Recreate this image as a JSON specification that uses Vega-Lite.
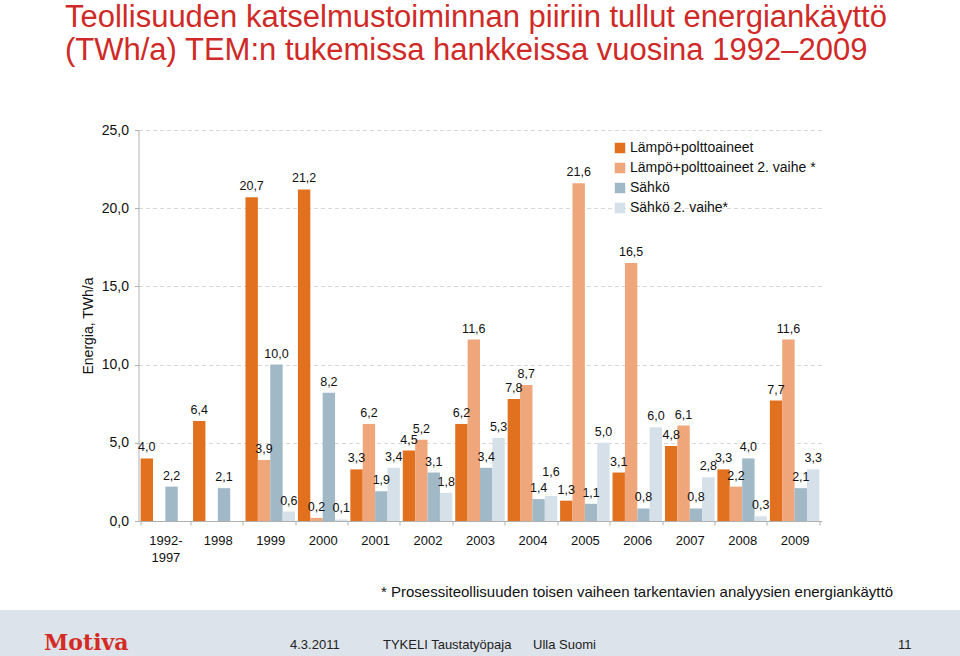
{
  "$schema": "https://vega.github.io/schema/vega-lite/v6.json",
  "padding": {"top": 2, "left": 0, "right": 0, "bottom": 0},
  "background": "white",
  "bounds": "flush",
  "center": true,
  "spacing": 89,
  "title": {
    "text": ["Teollisuuden katselmustoiminnan piiriin tullut energiankäyttö", "(TWh/a) TEM:n tukemissa hankkeissa vuosina 1992–2009"],
    "anchor": "start",
    "dx": 65,
    "fontSize": 31,
    "font": "Liberation Sans",
    "fontWeight": "normal",
    "color": "#cf2a27",
    "lineHeight": 33,
    "offset": 56
  },
  "config": {
    "locale": {"number": {"decimal": ",", "thousands": " ", "grouping": [3], "currency": ["", " €"]}},
    "view": {"stroke": null},
    "font": "Liberation Sans"
  },
  "vconcat": [
    {
      "width": 683,
      "height": 391,
      "data": {
        "values": [
          {"year": "1992-1997", "series": "Lämpö+polttoaineet", "value": 4.0},
          {"year": "1992-1997", "series": "Sähkö", "value": 2.2},
          {"year": "1998", "series": "Lämpö+polttoaineet", "value": 6.4},
          {"year": "1998", "series": "Sähkö", "value": 2.1},
          {"year": "1999", "series": "Lämpö+polttoaineet", "value": 20.7},
          {"year": "1999", "series": "Lämpö+polttoaineet 2. vaihe *", "value": 3.9},
          {"year": "1999", "series": "Sähkö", "value": 10.0},
          {"year": "1999", "series": "Sähkö 2. vaihe*", "value": 0.6},
          {"year": "2000", "series": "Lämpö+polttoaineet", "value": 21.2},
          {"year": "2000", "series": "Lämpö+polttoaineet 2. vaihe *", "value": 0.2},
          {"year": "2000", "series": "Sähkö", "value": 8.2},
          {"year": "2000", "series": "Sähkö 2. vaihe*", "value": 0.1},
          {"year": "2001", "series": "Lämpö+polttoaineet", "value": 3.3},
          {"year": "2001", "series": "Lämpö+polttoaineet 2. vaihe *", "value": 6.2},
          {"year": "2001", "series": "Sähkö", "value": 1.9},
          {"year": "2001", "series": "Sähkö 2. vaihe*", "value": 3.4},
          {"year": "2002", "series": "Lämpö+polttoaineet", "value": 4.5},
          {"year": "2002", "series": "Lämpö+polttoaineet 2. vaihe *", "value": 5.2},
          {"year": "2002", "series": "Sähkö", "value": 3.1},
          {"year": "2002", "series": "Sähkö 2. vaihe*", "value": 1.8},
          {"year": "2003", "series": "Lämpö+polttoaineet", "value": 6.2},
          {"year": "2003", "series": "Lämpö+polttoaineet 2. vaihe *", "value": 11.6},
          {"year": "2003", "series": "Sähkö", "value": 3.4},
          {"year": "2003", "series": "Sähkö 2. vaihe*", "value": 5.3},
          {"year": "2004", "series": "Lämpö+polttoaineet", "value": 7.8},
          {"year": "2004", "series": "Lämpö+polttoaineet 2. vaihe *", "value": 8.7},
          {"year": "2004", "series": "Sähkö", "value": 1.4},
          {"year": "2004", "series": "Sähkö 2. vaihe*", "value": 1.6},
          {"year": "2005", "series": "Lämpö+polttoaineet", "value": 1.3},
          {"year": "2005", "series": "Lämpö+polttoaineet 2. vaihe *", "value": 21.6},
          {"year": "2005", "series": "Sähkö", "value": 1.1},
          {"year": "2005", "series": "Sähkö 2. vaihe*", "value": 5.0},
          {"year": "2006", "series": "Lämpö+polttoaineet", "value": 3.1},
          {"year": "2006", "series": "Lämpö+polttoaineet 2. vaihe *", "value": 16.5},
          {"year": "2006", "series": "Sähkö", "value": 0.8},
          {"year": "2006", "series": "Sähkö 2. vaihe*", "value": 6.0},
          {"year": "2007", "series": "Lämpö+polttoaineet", "value": 4.8},
          {"year": "2007", "series": "Lämpö+polttoaineet 2. vaihe *", "value": 6.1},
          {"year": "2007", "series": "Sähkö", "value": 0.8},
          {"year": "2007", "series": "Sähkö 2. vaihe*", "value": 2.8},
          {"year": "2008", "series": "Lämpö+polttoaineet", "value": 3.3},
          {"year": "2008", "series": "Lämpö+polttoaineet 2. vaihe *", "value": 2.2},
          {"year": "2008", "series": "Sähkö", "value": 4.0},
          {"year": "2008", "series": "Sähkö 2. vaihe*", "value": 0.3},
          {"year": "2009", "series": "Lämpö+polttoaineet", "value": 7.7},
          {"year": "2009", "series": "Lämpö+polttoaineet 2. vaihe *", "value": 11.6},
          {"year": "2009", "series": "Sähkö", "value": 2.1},
          {"year": "2009", "series": "Sähkö 2. vaihe*", "value": 3.3}
        ]
      },
      "encoding": {
        "x": {
          "field": "year",
          "type": "nominal",
          "sort": ["1992-1997", "1998", "1999", "2000", "2001", "2002", "2003", "2004", "2005", "2006", "2007", "2008", "2009"],
          "scale": {"paddingInner": 0.055, "paddingOuter": 0.04},
          "axis": {
            "labelAngle": 0,
            "labelFontSize": 13,
            "labelColor": "#111",
            "labelPadding": 9,
            "labelLineHeight": 17,
            "labelExpr": "datum.value == '1992-1997' ? ['1992-', '1997'] : datum.value",
            "domainColor": "#b0b0b0",
            "tickColor": "#b0b0b0",
            "tickBand": "extent",
            "tickSize": 4,
            "title": "* Prosessiteollisuuden toisen vaiheen tarkentavien analyysien energiankäyttö",
            "titleFontSize": 15,
            "titleFontWeight": "normal",
            "titleColor": "#111",
            "titleAlign": "right",
            "titleBaseline": "alphabetic",
            "titleX": 754,
            "titleY": 75
          }
        },
        "xOffset": {
          "field": "series",
          "type": "nominal",
          "scale": {
            "domain": ["Lämpö+polttoaineet", "Lämpö+polttoaineet 2. vaihe *", "Sähkö", "Sähkö 2. vaihe*"],
            "paddingInner": 0,
            "paddingOuter": 0
          }
        },
        "y": {
          "field": "value",
          "type": "quantitative",
          "scale": {"domain": [0, 25], "nice": false},
          "axis": {
            "values": [0, 5, 10, 15, 20, 25],
            "format": ".1f",
            "labelFontSize": 14,
            "labelColor": "#111",
            "labelPadding": 6,
            "tickSize": 4,
            "tickColor": "#b0b0b0",
            "domainColor": "#b0b0b0",
            "gridColor": "#d8d8d8",
            "gridDash": [4, 3],
            "title": "Energia, TWh/a",
            "titleFontSize": 14,
            "titleFontWeight": "normal",
            "titleColor": "#111",
            "titlePadding": 6
          }
        }
      },
      "layer": [
        {
          "mark": {"type": "bar"},
          "encoding": {
            "color": {
              "field": "series",
              "type": "nominal",
              "scale": {
                "domain": ["Lämpö+polttoaineet", "Lämpö+polttoaineet 2. vaihe *", "Sähkö", "Sähkö 2. vaihe*"],
                "range": ["#e2711f", "#efa67a", "#a1b8c6", "#d6e0e9"]
              },
              "legend": {
                "orient": "none",
                "legendX": 613,
                "legendY": 11,
                "title": null,
                "symbolType": "square",
                "symbolSize": 110,
                "symbolStrokeWidth": 0,
                "labelFontSize": 14,
                "labelColor": "#111",
                "labelOffset": 3,
                "labelLimit": 300,
                "rowPadding": 6
              }
            }
          }
        },
        {
          "transform": [{"filter": "!(datum.year == '2004' && datum.series == 'Sähkö 2. vaihe*')"}],
          "mark": {"type": "text", "baseline": "bottom", "dy": -4, "fontSize": 12.5, "color": "#111"},
          "encoding": {
            "text": {"field": "value", "type": "quantitative", "format": ".1f"}
          }
        },
        {
          "transform": [{"filter": "datum.year == '2004' && datum.series == 'Sähkö 2. vaihe*'"}],
          "mark": {"type": "text", "baseline": "bottom", "dy": -17, "fontSize": 12.5, "color": "#111"},
          "encoding": {
            "text": {"field": "value", "type": "quantitative", "format": ".1f"}
          }
        }
      ]
    },
    {
      "width": 960,
      "height": 46,
      "view": {"fill": "#dce3ea", "stroke": null},
      "data": {
        "values": [
          {"item": "logo", "label": "Motiva"},
          {"item": "info", "label": "4.3.2011\u00a0\u00a0\u00a0\u00a0\u00a0\u00a0\u00a0\u00a0\u00a0\u00a0\u00a0\u00a0TYKELI Taustatyöpaja\u00a0\u00a0\u00a0\u00a0\u00a0\u00a0Ulla Suomi"},
          {"item": "page", "label": "11"}
        ]
      },
      "layer": [
        {
          "transform": [{"filter": "datum.item == 'logo'"}],
          "mark": {"type": "text", "align": "left", "dx": -436, "dy": 10, "fontSize": 22, "fontWeight": "bold", "font": "DejaVu Serif", "color": "#d42a23"},
          "encoding": {"text": {"field": "label"}}
        },
        {
          "transform": [{"filter": "datum.item == 'info'"}],
          "mark": {"type": "text", "align": "left", "dx": -190, "dy": 12, "fontSize": 13, "font": "Liberation Sans Narrow, Liberation Sans", "color": "#222"},
          "encoding": {"text": {"field": "label"}}
        },
        {
          "transform": [{"filter": "datum.item == 'page'"}],
          "mark": {"type": "text", "align": "left", "dx": 418, "dy": 12, "fontSize": 13, "font": "Liberation Sans Narrow, Liberation Sans", "color": "#222"},
          "encoding": {"text": {"field": "label"}}
        }
      ]
    }
  ]
}
